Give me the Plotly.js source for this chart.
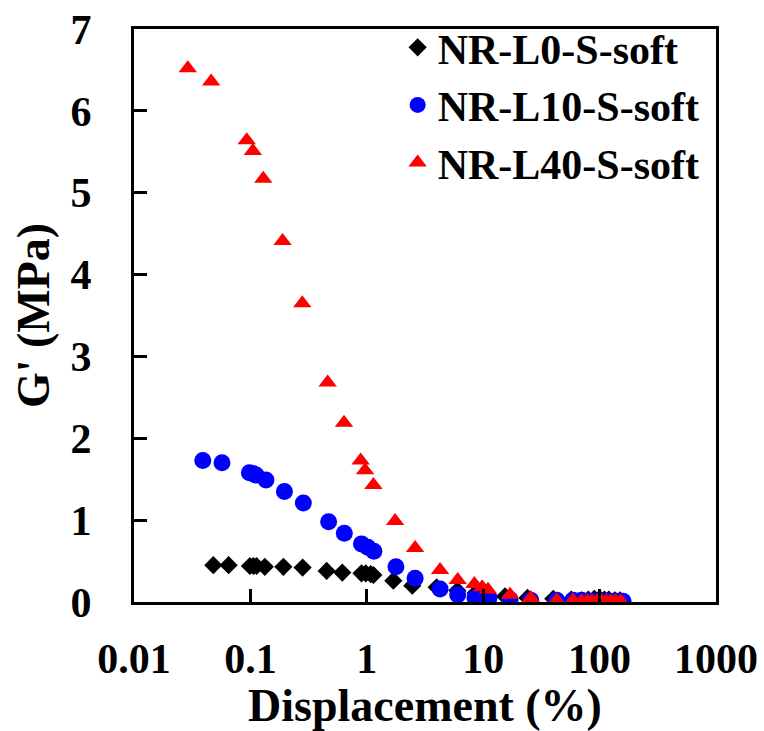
<!DOCTYPE html>
<html>
<head>
<meta charset="utf-8">
<script src="https://cdn.plot.ly/plotly-3.0.1.min.js"></script>
<style>
html, body { margin: 0; padding: 0; background: #fff; }
#chart { width: 764px; height: 731px; }
</style>
</head>
<body>
<div id="chart"></div>
<script>
// Series names
const seriesNames = ["NR-L0-S-soft", "NR-L10-S-soft", "NR-L40-S-soft"];

// NR-L0-S-soft (black diamonds)
const l0X = [0.048, 0.065, 0.099, 0.106, 0.113, 0.133, 0.192, 0.281, 0.452, 0.616, 0.90, 0.98, 1.08, 1.14, 1.69, 2.46, 3.98, 6.0, 8.6, 10.5, 15.4, 24, 40, 57, 70, 80, 90, 100, 110, 120, 135, 150];
const l0Y = [0.45, 0.45, 0.44, 0.44, 0.44, 0.43, 0.43, 0.42, 0.38, 0.36, 0.35, 0.35, 0.34, 0.33, 0.26, 0.20, 0.18, 0.14, 0.11, 0.09, 0.07, 0.05, 0.04, 0.03, 0.02, 0.03, 0.04, 0.04, 0.03, 0.03, 0.02, 0.02];

// NR-L10-S-soft (blue circles)
const l10X = [0.039, 0.057, 0.098, 0.105, 0.112, 0.136, 0.196, 0.285, 0.47, 0.641, 0.90, 1.02, 1.15, 1.78, 2.6, 4.26, 6.04, 8.5, 11.2, 17, 25.6, 42.8, 59, 70, 80, 90, 100, 112, 125, 140, 159];
const l10Y = [1.73, 1.70, 1.58, 1.57, 1.55, 1.49, 1.35, 1.21, 0.98, 0.84, 0.71, 0.67, 0.62, 0.43, 0.29, 0.16, 0.09, 0.05, 0.05, 0.03, 0.02, 0.02, 0.02, 0.02, 0.01, 0.01, 0.01, 0.01, 0.01, 0.01, 0.01];

// NR-L40-S-soft (red triangles)
const l40X = [0.029, 0.046, 0.093, 0.105, 0.129, 0.189, 0.279, 0.461, 0.637, 0.886, 0.966, 1.14, 1.75, 2.6, 4.26, 6.04, 8.4, 9.8, 11, 17, 25.6, 42.8, 59, 70, 78, 86, 95, 104, 114, 125, 137, 152];
const l40Y = [6.52, 6.36, 5.64, 5.51, 5.17, 4.41, 3.65, 2.68, 2.19, 1.73, 1.61, 1.43, 0.99, 0.66, 0.39, 0.27, 0.22, 0.18, 0.15, 0.09, 0.05, 0.02, 0.02, 0.01, 0.01, 0.01, 0.01, 0.01, 0.01, 0.01, 0.01, 0.01];

// Axis ticks
const xTickVals = [0.01, 0.1, 1, 10, 100, 1000];
const xTickText = ["0.01", "0.1", "1", "10", "100", "1000"];
const yTickVals = [0, 1, 2, 3, 4, 5, 6, 7];

const serif = "'Liberation Serif', 'Times New Roman', serif";

const traces = [
  { x: l0X, y: l0Y, name: seriesNames[0], type: "scatter", mode: "markers",
    marker: { symbol: "diamond", size: 14, color: "#000000" } },
  { x: l10X, y: l10Y, name: seriesNames[1], type: "scatter", mode: "markers",
    marker: { symbol: "circle", size: 17, color: "#0000ff" } },
  { x: l40X, y: l40Y, name: seriesNames[2], type: "scatter", mode: "markers",
    marker: { symbol: "triangle-up", size: 16, color: "#ff0000" } }
];

const layout = {
  width: 764, height: 731,
  paper_bgcolor: "#ffffff", plot_bgcolor: "#ffffff",
  margin: { l: 134, r: 48, t: 29, b: 129 },
  font: { family: serif, color: "#000000", weight: "bold" },
  showlegend: true,
  legend: {
    x: 0.453, y: 1.027, xanchor: "left", yanchor: "top",
    bgcolor: "rgba(0,0,0,0)",
    font: { family: serif, size: 42, color: "#000000", weight: "bold" },
    tracegroupgap: 0
  },
  xaxis: {
    type: "log", range: [-2, 3],
    tickvals: xTickVals, ticktext: xTickText,
    ticks: "inside", ticklen: 13, tickwidth: 3, tickcolor: "#000",
    showline: true, linewidth: 3, linecolor: "#000", mirror: true,
    showgrid: false, zeroline: false,
    ticklabelstandoff: 18,
    tickfont: { family: serif, size: 42, color: "#000", weight: "bold" },
    title: { text: "Displacement (%)", font: { family: serif, size: 46, color: "#000", weight: "bold" }, standoff: 14 }
  },
  yaxis: {
    range: [0, 7],
    tickvals: yTickVals,
    ticks: "inside", ticklen: 13, tickwidth: 3, tickcolor: "#000",
    showline: true, linewidth: 3, linecolor: "#000", mirror: true,
    showgrid: false, zeroline: false,
    ticklabelstandoff: 31,
    tickfont: { family: serif, size: 42, color: "#000", weight: "bold" },
    title: { text: "G' (MPa)", font: { family: serif, size: 46, color: "#000", weight: "bold" }, standoff: 7 }
  }
};

Plotly.newPlot("chart", traces, layout, { staticPlot: true, displayModeBar: false });
</script>
</body>
</html>
